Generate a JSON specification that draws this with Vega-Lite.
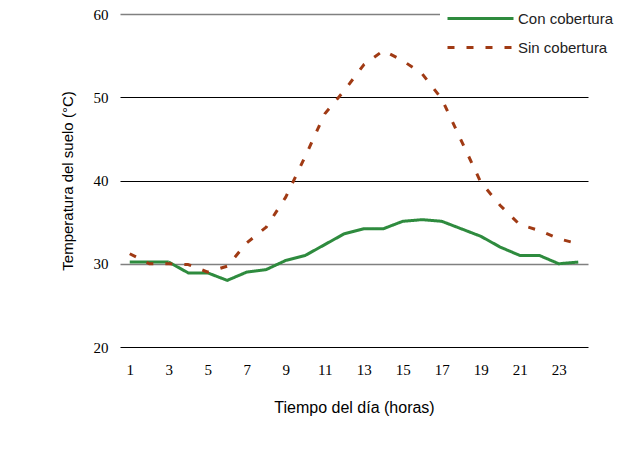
{
  "$schema": "https://vega.github.io/schema/vega-lite/v6.json",
  "width": 468,
  "height": 333,
  "autosize": "none",
  "padding": {"left": 120, "top": 14, "right": 30, "bottom": 106},
  "background": "white",
  "config": {"view": {"stroke": null}},
  "data": {"values": [
    {"h": 1, "s": "Con cobertura", "t": 30.2},
    {"h": 2, "s": "Con cobertura", "t": 30.2},
    {"h": 3, "s": "Con cobertura", "t": 30.2},
    {"h": 4, "s": "Con cobertura", "t": 28.9},
    {"h": 5, "s": "Con cobertura", "t": 28.9},
    {"h": 6, "s": "Con cobertura", "t": 28.0},
    {"h": 7, "s": "Con cobertura", "t": 29.0},
    {"h": 8, "s": "Con cobertura", "t": 29.3},
    {"h": 9, "s": "Con cobertura", "t": 30.4},
    {"h": 10, "s": "Con cobertura", "t": 31.0},
    {"h": 11, "s": "Con cobertura", "t": 32.3},
    {"h": 12, "s": "Con cobertura", "t": 33.6},
    {"h": 13, "s": "Con cobertura", "t": 34.2},
    {"h": 14, "s": "Con cobertura", "t": 34.2},
    {"h": 15, "s": "Con cobertura", "t": 35.1},
    {"h": 16, "s": "Con cobertura", "t": 35.3},
    {"h": 17, "s": "Con cobertura", "t": 35.1},
    {"h": 18, "s": "Con cobertura", "t": 34.2},
    {"h": 19, "s": "Con cobertura", "t": 33.3},
    {"h": 20, "s": "Con cobertura", "t": 32.0},
    {"h": 21, "s": "Con cobertura", "t": 31.0},
    {"h": 22, "s": "Con cobertura", "t": 31.0},
    {"h": 23, "s": "Con cobertura", "t": 30.0},
    {"h": 24, "s": "Con cobertura", "t": 30.2},
    {"h": 1, "s": "Sin cobertura", "t": 31.2},
    {"h": 2, "s": "Sin cobertura", "t": 30.0},
    {"h": 3, "s": "Sin cobertura", "t": 30.0},
    {"h": 4, "s": "Sin cobertura", "t": 29.9},
    {"h": 5, "s": "Sin cobertura", "t": 29.0},
    {"h": 6, "s": "Sin cobertura", "t": 29.7},
    {"h": 7, "s": "Sin cobertura", "t": 32.5},
    {"h": 8, "s": "Sin cobertura", "t": 34.4},
    {"h": 9, "s": "Sin cobertura", "t": 38.0},
    {"h": 10, "s": "Sin cobertura", "t": 42.9},
    {"h": 11, "s": "Sin cobertura", "t": 48.0},
    {"h": 12, "s": "Sin cobertura", "t": 50.8},
    {"h": 13, "s": "Sin cobertura", "t": 53.9},
    {"h": 14, "s": "Sin cobertura", "t": 55.6},
    {"h": 15, "s": "Sin cobertura", "t": 54.4},
    {"h": 16, "s": "Sin cobertura", "t": 52.8},
    {"h": 17, "s": "Sin cobertura", "t": 49.8},
    {"h": 18, "s": "Sin cobertura", "t": 44.8},
    {"h": 19, "s": "Sin cobertura", "t": 39.8},
    {"h": 20, "s": "Sin cobertura", "t": 37.0},
    {"h": 21, "s": "Sin cobertura", "t": 34.7},
    {"h": 22, "s": "Sin cobertura", "t": 34.0},
    {"h": 23, "s": "Sin cobertura", "t": 33.0},
    {"h": 24, "s": "Sin cobertura", "t": 32.4}
  ]},
  "mark": {"type": "line", "strokeWidth": 3, "strokeCap": "butt", "strokeJoin": "round"},
  "encoding": {
    "x": {
      "field": "h", "type": "quantitative",
      "scale": {"domain": [0.5, 24.5], "nice": false, "zero": false},
      "axis": {
        "values": [1, 3, 5, 7, 9, 11, 13, 15, 17, 19, 21, 23],
        "grid": false, "domain": false, "ticks": false,
        "labelFont": "Liberation Serif", "labelFontSize": 15, "labelColor": "black",
        "labelPadding": 15,
        "title": "Tiempo del día (horas)",
        "titleFont": "Liberation Sans", "titleFontSize": 16, "titleFontWeight": "normal",
        "titleColor": "black", "titlePadding": 22
      }
    },
    "y": {
      "field": "t", "type": "quantitative",
      "scale": {"domain": [20, 60], "nice": false, "zero": false},
      "axis": {
        "values": [20, 30, 40, 50, 60],
        "grid": true,
        "gridColor": {"condition": {"test": "datum.value === 30 || datum.value === 60", "value": "#808080"}, "value": "black"},
        "gridWidth": {"condition": {"test": "datum.value === 30 || datum.value === 60", "value": 1.5}, "value": 1},
        "domain": false, "ticks": false,
        "labelFont": "Liberation Serif", "labelFontSize": 15, "labelColor": "black",
        "labelPadding": 12,
        "title": "Temperatura del suelo (°C)",
        "titleFont": "Liberation Sans", "titleFontSize": 15, "titleFontWeight": "normal",
        "titleColor": "black", "titlePadding": 18
      }
    },
    "color": {
      "field": "s", "type": "nominal",
      "scale": {"domain": ["Con cobertura", "Sin cobertura"], "range": ["#2E8B3E", "#A03A14"]},
      "legend": {
        "title": null,
        "orient": "none",
        "legendX": 320,
        "legendY": -14,
        "fillColor": "white",
        "padding": 6,
        "symbolType": "M-1,0H5",
        "symbolSize": 484,
        "symbolStrokeWidth": 3,
        "rowPadding": 8,
        "labelFont": "Liberation Sans",
        "labelFontSize": 15,
        "labelColor": "#222222",
        "labelOffset": 47
      }
    },
    "strokeDash": {
      "field": "s", "type": "nominal",
      "scale": {"domain": ["Con cobertura", "Sin cobertura"], "range": [[1, 0], [7, 12]]}
    }
  }
}
